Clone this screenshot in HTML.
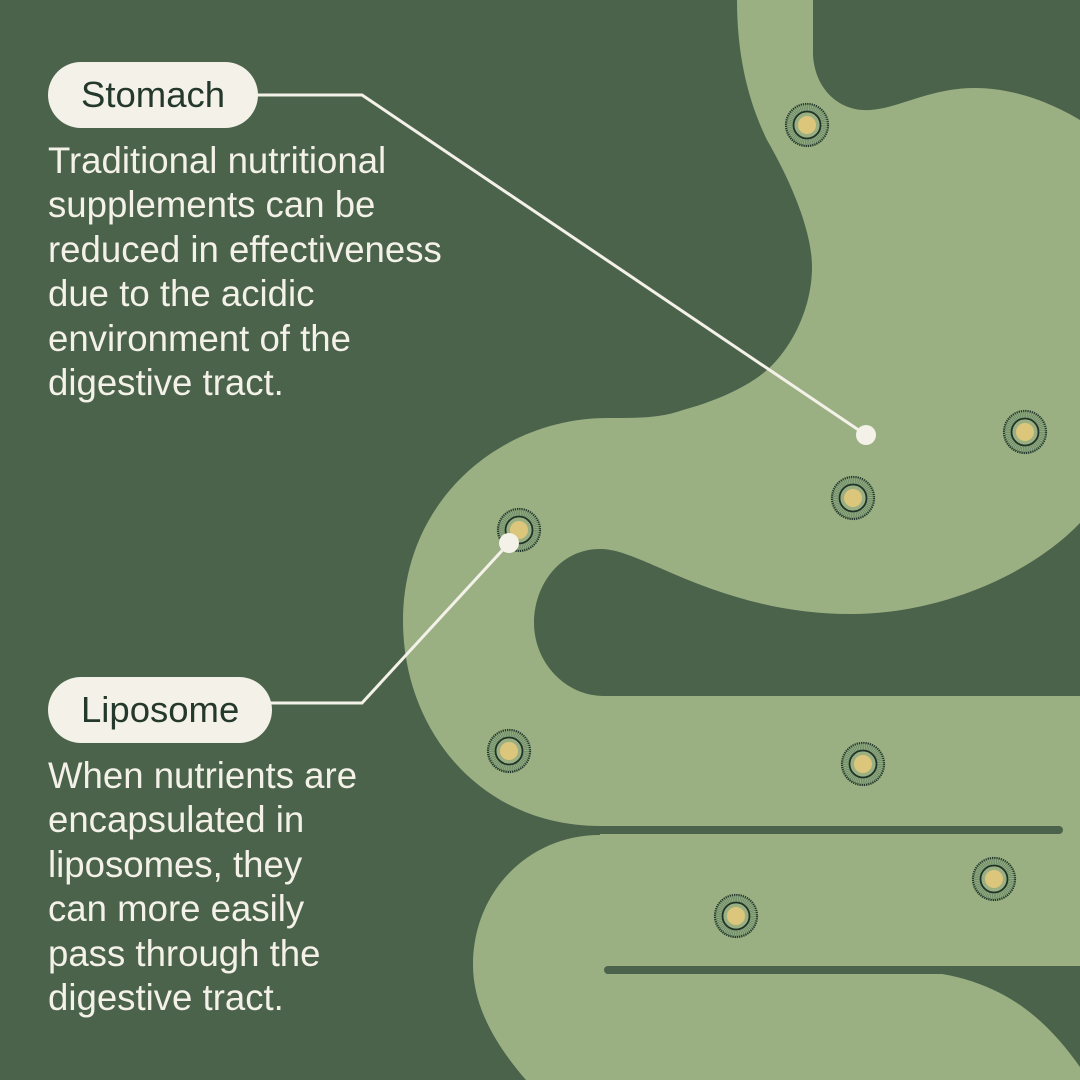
<!DOCTYPE html>
<html><head><meta charset="utf-8"><style>
html,body{margin:0;padding:0}
body{width:1080px;height:1080px;overflow:hidden;background:#4b634b;font-family:"Liberation Sans",sans-serif;position:relative}
svg{position:absolute;left:0;top:0}
.pill{position:absolute;background:#f3f1e8;color:#24392b;border-radius:33px;font-size:36.5px;line-height:66px;height:66px;box-sizing:border-box;padding-left:33px}
.txt{position:absolute;left:48px;color:#f3f1e8;font-size:36.6px;line-height:44.4px}
</style></head><body>
<svg width="1080" height="1080" viewBox="0 0 1080 1080">
<defs>
<g id="lp">
<circle r="21" fill="#92ab80" stroke="#1f3328" stroke-width="2.2" stroke-dasharray="1.3 0.9"/>
<circle r="17.5" fill="none" stroke="#5f7e5e" stroke-width="6" stroke-dasharray="0.6 1.2"/>
<circle r="13.5" fill="#9ab082" stroke="#1f3328" stroke-width="1.8"/>
<circle r="9" fill="#dcc67c"/>
</g>
</defs>
<path fill="#9ab082" d="M737,0 L813,0 L813,55 C815,90 840,112 870,110 C900,108 930,88 975,88 C1020,88 1060,108 1080,120 L1080,1080 L526,1080 C500,1050 473,1010 473,965 C473,890 530,835 600,835 L600,826 C480,826 403,730 403,621 C403,500 500,418 608,418 C640,418 660,418 683,410 C720,400 750,385 767,370 C790,350 812,310 812,267 C812,230 790,180 767,140 C750,105 737,60 737,0 Z"/>
<path fill="#4b634b" d="M1080,523 C1030,575 940,614 851,614 C780,614 720,595 660,568 C630,555 615,549 600,549 C560,549 534,585 534,623 C534,662 565,696 604,696 L1080,696 Z"/>
<rect x="560" y="826" width="503" height="8" rx="4" fill="#4b634b"/>
<rect x="604" y="966" width="500" height="8" rx="4" fill="#4b634b"/>
<path fill="#4b634b" d="M900,970 C990,972 1040,1010 1080,1067 L1080,970 Z"/>
<use href="#lp" x="807" y="125"/>
<use href="#lp" x="1025" y="432"/>
<use href="#lp" x="853" y="498"/>
<use href="#lp" x="519" y="530"/>
<use href="#lp" x="509" y="751"/>
<use href="#lp" x="863" y="764"/>
<use href="#lp" x="994" y="879"/>
<use href="#lp" x="736" y="916"/>
<polyline points="250,95 362,95 866,435" fill="none" stroke="#f3f1e8" stroke-width="3"/>
<circle cx="866" cy="435" r="10" fill="#f3f1e8"/>
<polyline points="265,703 362,703 509,543" fill="none" stroke="#f3f1e8" stroke-width="3"/>
<circle cx="509" cy="543" r="10" fill="#f3f1e8"/>
</svg>
<div class="pill" style="left:48px;top:62px;width:210px">Stomach</div>
<div class="txt" style="top:139px">Traditional nutritional<br>supplements can be<br>reduced in effectiveness<br>due to the acidic<br>environment of the<br>digestive tract.</div>
<div class="pill" style="left:48px;top:677px;width:224px">Liposome</div>
<div class="txt" style="top:754px">When nutrients are<br>encapsulated in<br>liposomes, they<br>can more easily<br>pass through the<br>digestive tract.</div>
</body></html>
